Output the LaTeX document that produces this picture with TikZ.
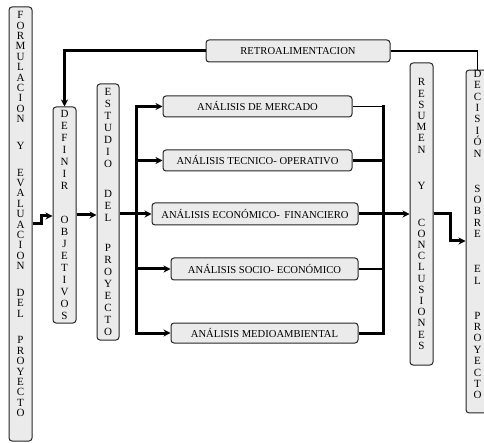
\documentclass[tikz,border=0pt]{standalone}
\usepackage{fontspec}
\setmainfont{Liberation Serif}
\usetikzlibrary{arrows.meta}

\begin{document}
\begin{tikzpicture}[x=1pt, y=-1pt,
      caja/.style={draw=black!85, fill=black!8, rounded corners=3pt, line width=1pt, inner sep=0pt, align=center},
      vcaja/.style={caja, minimum width=23pt},
      hcaja/.style={caja, minimum height=21pt, font=\fontsize{10.6}{12}\selectfont},
      grueso/.style={line width=3pt},
      fino/.style={line width=1.3pt},
      flecha/.style={-{Stealth[length=7pt,width=7pt]}}
    ]
    \useasboundingbox (0,0) rectangle (484,443);
    % Cajas verticales
    \node [vcaja, minimum height=434pt, font=\fontsize{11}{10.4}\selectfont] (form) at (20.5,224)
      {F\\O\\R\\M\\U\\L\\A\\C\\I\\O\\N\\[16.3pt]Y\\[16.3pt]E\\V\\A\\L\\U\\A\\C\\I\\O\\N\\[16.3pt]D\\E\\L\\[16.3pt]P\\R\\O\\Y\\E\\C\\T\\O\\[9.6pt]\mbox{}};
    \node [vcaja, minimum height=216pt, font=\fontsize{11}{12}\selectfont] (defin) at (64.5,215)
      {D\\E\\F\\I\\N\\I\\R\\[22pt]O\\B\\J\\E\\T\\I\\V\\O\\S};
    \node [vcaja, minimum width=22pt, minimum height=256pt, font=\fontsize{11}{12}\selectfont] (estud) at (108,212)
      {E\\S\\T\\U\\D\\I\\O\\[18pt]D\\E\\L\\[18pt]P\\R\\O\\Y\\E\\C\\T\\O};
    \node [vcaja, minimum height=302pt, font=\fontsize{11}{11.2}\selectfont] (resum) at (421.5,214)
      {R\\E\\S\\U\\M\\E\\N\\[25.3pt]Y\\[25.3pt]C\\O\\N\\C\\L\\U\\S\\I\\O\\N\\E\\S};
    \node [vcaja, minimum height=337pt, font=\fontsize{11}{11.4}\selectfont] (decis) at (477.5,241.5)
      {D\\E\\C\\I\\S\\I\\Ó\\N\\[23.6pt]S\\O\\B\\R\\E\\[23.6pt]E\\L\\[23.6pt]P\\R\\O\\Y\\E\\C\\T\\O\\[2.6pt]\mbox{}};
    % Cajas horizontales
    \node [hcaja, minimum width=184pt, minimum height=22pt] (retro) at (298,51) {RETROALIMENTACION};
    \node [hcaja, minimum width=189pt] (merc) at (257.5,106.5) {ANÁLISIS DE MERCADO};
    \node [hcaja, minimum width=189pt] (tecn) at (257.5,160.5) {ANÁLISIS TECNICO- OPERATIVO};
    \node [hcaja, minimum width=206pt, minimum height=22pt] (econ) at (255,214) {ANÁLISIS ECONÓMICO-\, FINANCIERO};
    \node [hcaja, minimum width=187pt, minimum height=22pt] (socio) at (264.5,269) {ANÁLISIS SOCIO- ECONÓMICO};
    \node [hcaja, minimum width=187pt, minimum height=20pt] (medio) at (264.5,333) {ANÁLISIS MEDIOAMBIENTAL};
    % Puntos de quiebre
    \coordinate (escalonI) at (41,216);
    \coordinate (bifurca) at (136,214);
    \coordinate (une) at (383,214);
    \coordinate (escalonD) at (450,241);
    % Entrada
    \draw [grueso, flecha] (form.east) -| (escalonI) -- (escalonI -| defin.west);
    \draw [grueso, flecha] (defin.east) -- (defin.east -| estud.west);
    \draw [grueso, flecha] (estud.east |- econ.west) -- (econ.west);
    \draw [grueso, line cap=rect] (bifurca |- merc.west) -- (bifurca |- medio.west);
    \foreach \n in {merc, tecn, socio, medio}
      \draw [grueso, flecha] (bifurca |- \n.west) -- (\n.west);
    % Salida
    \draw [grueso, line cap=rect] (une |- merc.east) -- (une |- medio.east);
    \foreach \n in {merc, socio}
      \draw [fino] (\n.east) -- (une |- \n.east);
    \foreach \n in {tecn, medio}
      \draw [grueso] (\n.east) -- (une |- \n.east);
    \draw [grueso, flecha] (econ.east) -- (econ.east -| resum.west);
    \draw [grueso, flecha] (resum.east |- econ.east) -| (escalonD) -- (escalonD -| decis.west);
    % Retroalimentacion
    \draw [fino] (decis.north) |- (retro.east);
    \draw [grueso, flecha] (retro.west) -| (defin.north);
\end{tikzpicture}
\end{document}
